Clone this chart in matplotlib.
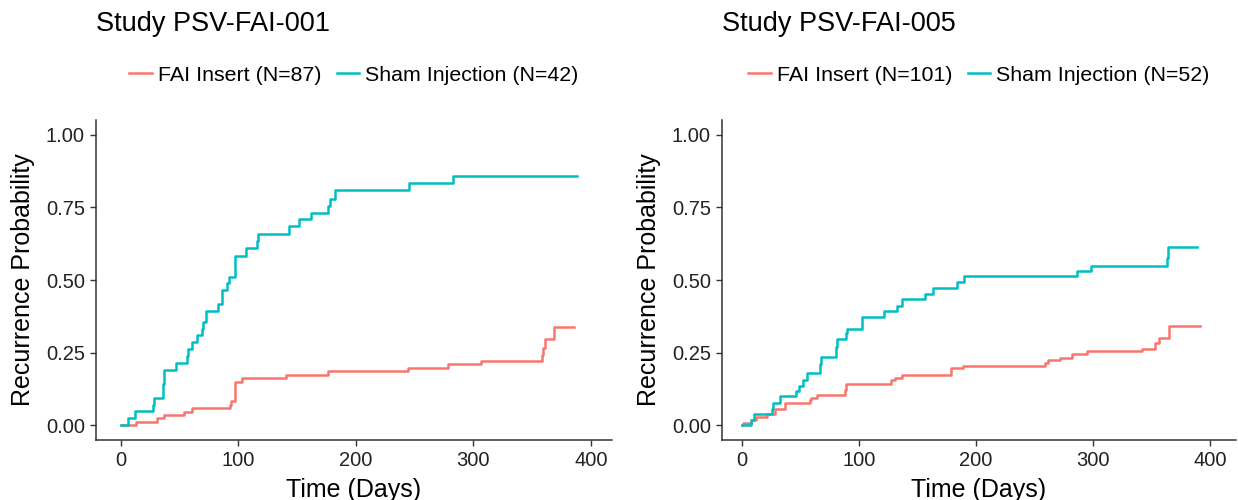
import matplotlib
matplotlib.use("Agg")
import matplotlib.pyplot as plt

plt.rcParams['font.family'] = ['Liberation Sans', 'DejaVu Sans']

RED = '#F8766D'
TEAL = '#00BFC4'

# Study PSV-FAI-001
fai1_t = [0, 12.8, 30.9, 36.6, 53.9, 60.1, 92.8, 94, 97, 103.3, 140.4, 176.4,
          244, 278.5, 306.1, 358, 359, 360.9, 368.8, 386]
fai1_p = [0, 0.012, 0.024, 0.037, 0.047, 0.061, 0.072, 0.084, 0.150, 0.164, 0.173,
          0.187, 0.196, 0.210, 0.221, 0.241, 0.267, 0.296, 0.339, 0.339]
sham1_t = [0, 5.7, 11.7, 27.5, 28.5, 35.5, 36.2, 37, 46.8, 55.9, 57, 60.7, 64.4,
           69.2, 70, 72.1, 82.8, 85.7, 90.5, 91.9, 97, 106.4, 115.5, 116.5, 143.3,
           151.5, 161.7, 176.4, 177.5, 182.1, 245.1, 282.3, 388]
sham1_p = [0, 0.024, 0.048, 0.071, 0.095, 0.143, 0.167, 0.19, 0.214, 0.238, 0.262,
           0.286, 0.31, 0.333, 0.357, 0.393, 0.417, 0.464, 0.488, 0.512, 0.583, 0.61,
           0.634, 0.659, 0.686, 0.708, 0.732, 0.756, 0.78, 0.81, 0.834, 0.857, 0.857]

# Study PSV-FAI-005
fai5_t = [0, 1, 7.4, 12, 21.6, 28, 36.8, 58, 59, 64, 88, 89, 127, 130.8, 137,
          178.6, 189.2, 259, 261.8, 271.8, 281.8, 294.6, 341.6, 353, 355.8, 364.4, 391.5]
fai5_p = [0, 0.0099, 0.02, 0.03, 0.04, 0.058, 0.076, 0.086, 0.093, 0.103, 0.121,
          0.141, 0.156, 0.164, 0.173, 0.196, 0.204, 0.216, 0.225, 0.233, 0.247, 0.256,
          0.264, 0.285, 0.302, 0.343, 0.343]
sham5_t = [0, 7.4, 10.5, 25.4, 26.5, 32.5, 46.2, 49, 52.4, 55.8, 66.7, 67.5, 80.1,
           81, 88.6, 89.5, 102.8, 121.6, 132.2, 136.5, 156.4, 163.5, 184, 190, 286,
           298.3, 363, 364, 388.6]
sham5_p = [0, 0.019, 0.041, 0.058, 0.078, 0.101, 0.118, 0.135, 0.155, 0.179, 0.212,
           0.236, 0.271, 0.296, 0.317, 0.333, 0.374, 0.393, 0.41, 0.434, 0.452, 0.472,
           0.494, 0.513, 0.53, 0.549, 0.577, 0.612, 0.612]

panels = [
    ("Study PSV-FAI-001", fai1_t, fai1_p, "FAI Insert (N=87)",
     sham1_t, sham1_p, "Sham Injection (N=42)", (-21.3, 418)),
    ("Study PSV-FAI-005", fai5_t, fai5_p, "FAI Insert (N=101)",
     sham5_t, sham5_p, "Sham Injection (N=52)", (-17.1, 422)),
]

fig = plt.figure(figsize=(12.38, 5), dpi=100)
boxes = [[96 / 1238, 0.12, 516 / 1238, 0.64],
         [722 / 1238, 0.12, 514 / 1238, 0.64]]

for box, (title, ft, fp, flab, st, sp, slab, xl) in zip(boxes, panels):
    ax = fig.add_axes(box)
    ax.step(ft, fp, where='post', color=RED, lw=1.8, label=flab)
    ax.step(st, sp, where='post', color=TEAL, lw=1.8, label=slab)
    ax.set_xlim(*xl)
    ax.set_ylim(-0.05, 1.05)
    ax.set_xticks([0, 100, 200, 300, 400])
    ax.set_yticks([0, 0.25, 0.5, 0.75, 1.0])
    ax.set_yticklabels(['0.00', '0.25', '0.50', '0.75', '1.00'])
    for s in ['top', 'right']:
        ax.spines[s].set_visible(False)
    for s in ['left', 'bottom']:
        ax.spines[s].set_color('#333333')
        ax.spines[s].set_linewidth(1.1)
    ax.tick_params(length=4, width=1, color='#333333', labelsize=14.5,
                   labelcolor='#222222', pad=4)
    ax.set_xlabel('Time (Days)', fontsize=18, labelpad=6)
    ax.set_ylabel('Recurrence Probability', fontsize=18, labelpad=8)
    ax.text(0.0, 1.30, title, transform=ax.transAxes, fontsize=19.5,
            ha='left', va='center')
    ax.legend(loc='center', bbox_to_anchor=(0.5, 1.14), ncol=2, frameon=False,
              fontsize=15.4, handlelength=1.05, handletextpad=0.3,
              columnspacing=0.7, borderaxespad=0)

fig.savefig('out.png', dpi=100)
